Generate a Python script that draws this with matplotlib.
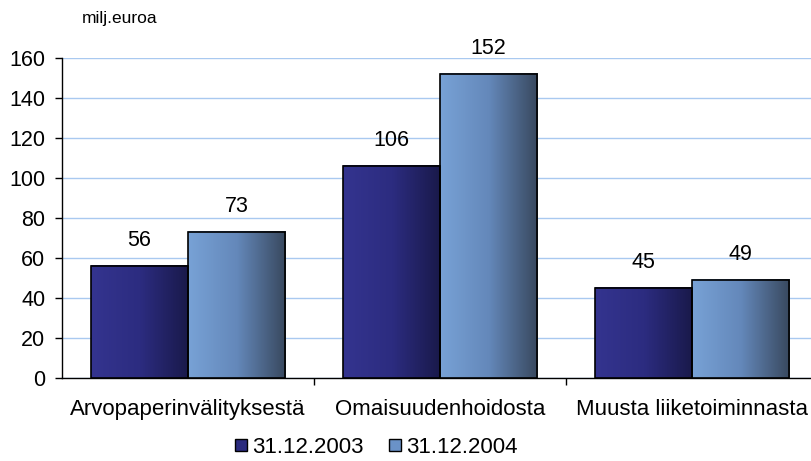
import numpy as np
import matplotlib.pyplot as plt
from matplotlib.colors import LinearSegmentedColormap
from matplotlib.lines import Line2D

plt.rcParams['font.family'] = ['Liberation Sans', 'DejaVu Sans']

categories = ['Arvopaperinvälityksestä', 'Omaisuudenhoidosta', 'Muusta liiketoiminnasta']
series_names = ['31.12.2003', '31.12.2004']
values_2003 = [56, 106, 45]
values_2004 = [73, 152, 49]

grad_2003 = LinearSegmentedColormap.from_list('g03', ['#34348f', '#2c2c80', '#19194a'])
grad_2004 = LinearSegmentedColormap.from_list('g04', ['#78a2d6', '#6488ba', '#38485e'])

fig = plt.figure(figsize=(8.11, 4.61), dpi=100)
ax = fig.add_axes([62 / 811, (461 - 378) / 461, 1 - 62 / 811, 320 / 461])

x = np.arange(len(categories))
w = 0.385
ramp = np.linspace(0, 1, 256).reshape(1, -1)

for vals, offset, cmap in [(values_2003, -w / 2, grad_2003), (values_2004, w / 2, grad_2004)]:
    bars = ax.bar(x + offset, vals, w, facecolor='none', edgecolor='black', linewidth=1.2, zorder=4)
    for b, v in zip(bars, vals):
        ax.imshow(ramp, cmap=cmap, aspect='auto', zorder=3,
                  extent=(b.get_x(), b.get_x() + b.get_width(), 0, v))
        ax.annotate(str(v), (b.get_x() + b.get_width() / 2, v), xytext=(0, 18.5),
                    textcoords='offset points', ha='center', va='center', fontsize=15.5)

ax.set_xlim(-0.5, 2.5 - 7 / 252)
ax.set_ylim(0, 160)
ax.set_yticks(range(0, 161, 20))
ax.tick_params(axis='y', labelsize=15.5, length=5, width=1, direction='out', pad=7)
ax.grid(axis='y', color='#a9c9f0', linewidth=1, zorder=0)
ax.set_axisbelow(True)

ax.set_xticks([0.5, 1.5])
ax.set_xticks(x, minor=True)
ax.set_xticklabels([])
ax.set_xticklabels(categories, minor=True)
ax.tick_params(axis='x', which='major', length=5, width=1, direction='out')
ax.tick_params(axis='x', which='minor', length=0, labelsize=16, pad=15)

for s in ['top', 'right']:
    ax.spines[s].set_visible(False)
ax.spines['left'].set_linewidth(1)
ax.spines['bottom'].set_linewidth(1)

fig.text(120 / 811, 1 - 18 / 461, 'milj.euroa', ha='center', va='center', fontsize=12.5)

handles = [Line2D([], [], marker='s', linestyle='none', markersize=8,
                  markerfacecolor=c, markeredgecolor='black')
           for c in ['#2a2a7e', '#6a92c8']]
fig.legend(handles, series_names, loc='center', bbox_to_anchor=(375 / 811, 1 - 447 / 461),
           ncol=2, frameon=False, fontsize=16, handletextpad=0.1, columnspacing=1.0,
           handlelength=0.8)

fig.savefig('out.png', dpi=100)
